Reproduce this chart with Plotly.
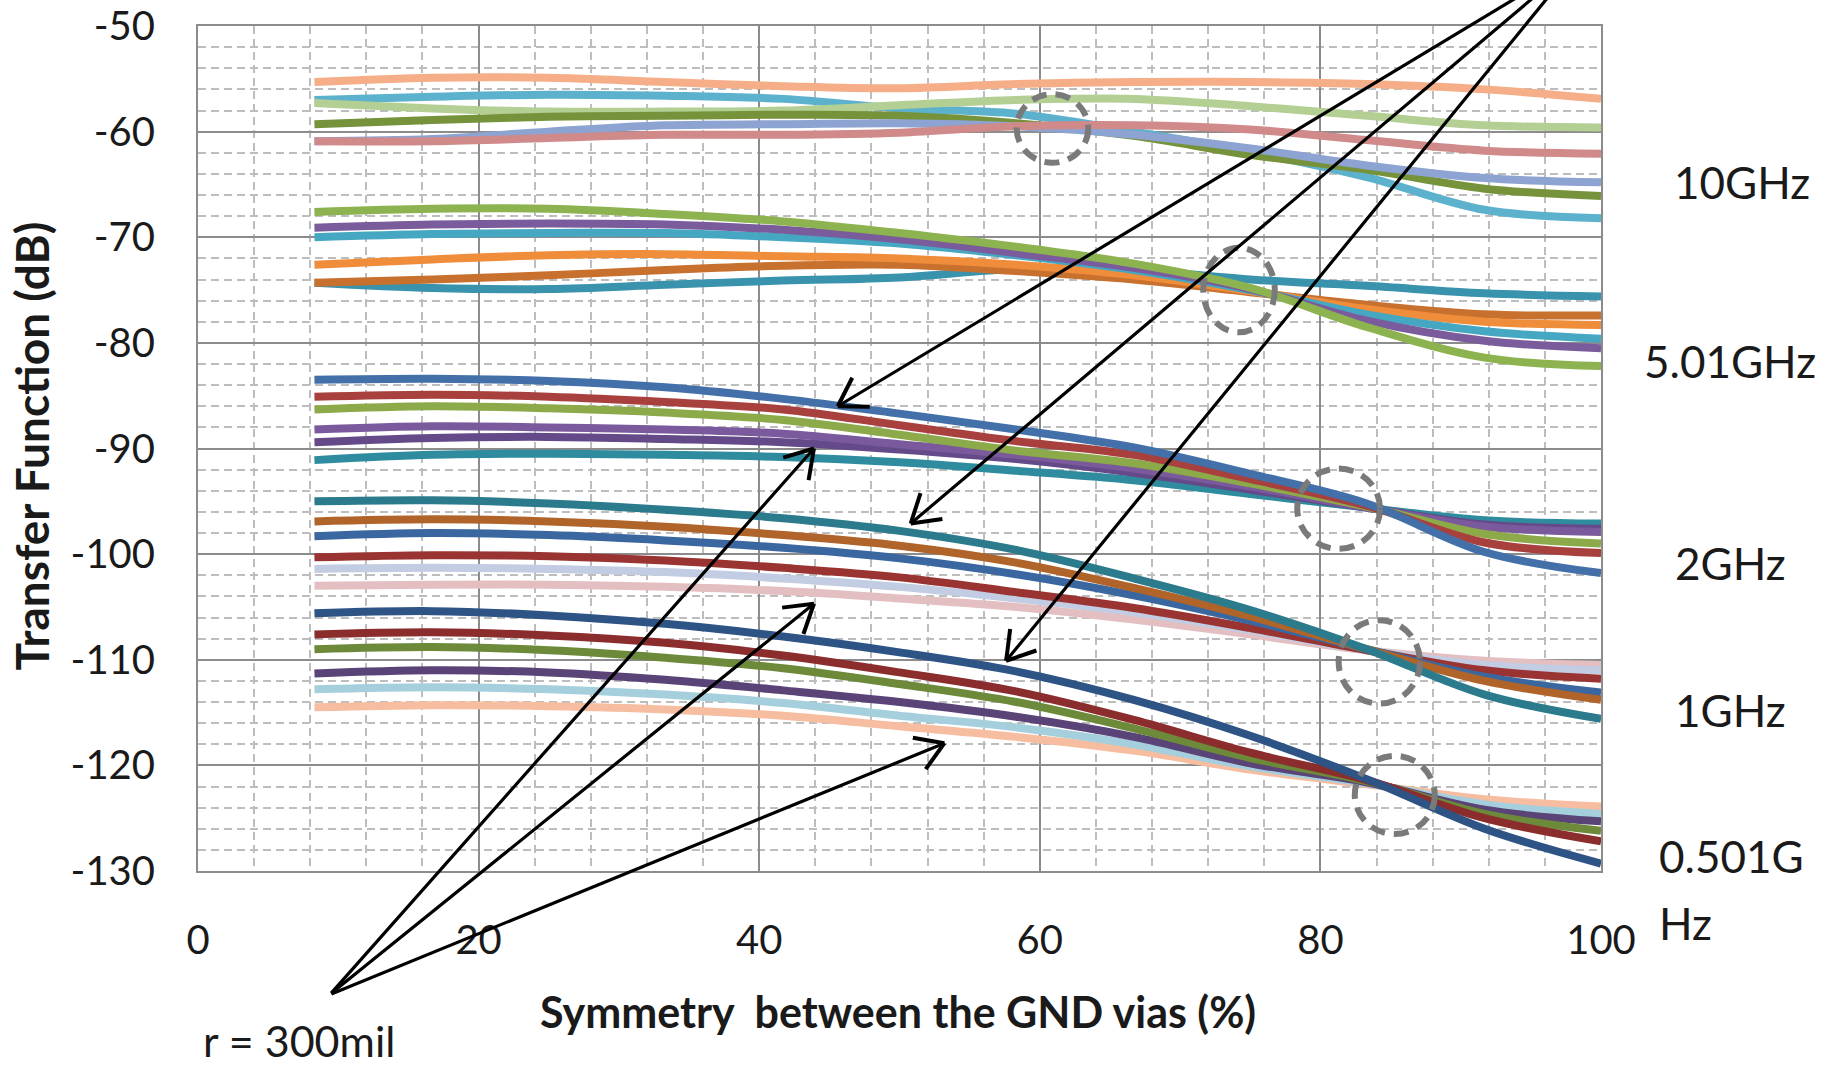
import math
import plotly.graph_objects as go

# ---------------- data ----------------
x_sym = [8.3, 16.7, 25, 33.3, 41.7, 50, 58.3, 66.7, 75, 83.3, 91.7, 100]

# 10 GHz
g10_peach = [-55.3, -54.9, -54.9, -55.3, -55.7, -55.9, -55.5, -55.3, -55.3, -55.5, -56.0, -56.9]
g10_cyan = [-57.0, -56.7, -56.5, -56.6, -56.9, -57.8, -58.3, -60.0, -61.9, -64.3, -67.4, -68.2]
g10_lgreen = [-57.3, -57.8, -58.1, -58.1, -58.0, -57.5, -57.0, -56.9, -57.6, -58.5, -59.4, -59.6]
g10_dgreen = [-59.3, -58.9, -58.6, -58.5, -58.4, -58.5, -59.2, -60.4, -62.2, -63.6, -65.4, -66.1]
g10_lav = [-60.9, -60.7, -60.0, -59.4, -59.3, -59.2, -59.5, -60.3, -61.6, -63.2, -64.4, -64.8]
g10_rose = [-60.9, -60.9, -60.6, -60.3, -60.3, -60.1, -59.5, -59.4, -59.8, -60.8, -61.8, -62.1]

# 5.01 GHz
g5_green = [-67.6, -67.3, -67.3, -67.8, -68.5, -69.6, -70.9, -72.5, -74.8, -78.5, -81.4, -82.2]
g5_purple = [-69.1, -68.8, -68.7, -68.8, -69.3, -70.2, -71.5, -72.9, -74.9, -77.9, -79.8, -80.5]
g5_cyan = [-70.0, -69.7, -69.6, -69.6, -70.0, -70.6, -71.7, -73.1, -75.0, -77.3, -78.9, -79.6]
g5_orange = [-72.6, -72.1, -71.7, -71.6, -71.8, -72.0, -72.6, -73.6, -75.1, -76.8, -78.0, -78.3]
g5_dorange = [-74.3, -74.0, -73.6, -73.1, -72.7, -72.6, -73.2, -74.0, -75.2, -76.4, -77.3, -77.4]
g5_teal = [-74.3, -74.8, -74.9, -74.5, -74.1, -73.8, -73.0, -73.1, -74.0, -74.6, -75.3, -75.6]

# 2 GHz
g2_blue = [-83.5, -83.4, -83.6, -84.2, -85.3, -86.7, -88.2, -89.9, -92.4, -95.2, -99.8, -101.8]
g2_red = [-85.1, -84.9, -85.1, -85.6, -86.3, -87.8, -89.3, -90.6, -92.9, -95.4, -98.9, -99.9]
g2_green = [-86.3, -86.0, -86.2, -86.6, -87.3, -88.7, -90.2, -91.4, -93.3, -95.5, -98.1, -99.0]
g2_purple = [-88.2, -87.9, -88.0, -88.2, -88.6, -89.6, -90.6, -91.9, -93.6, -95.6, -97.4, -97.9]
g2_dpurple = [-89.4, -89.0, -88.9, -89.1, -89.4, -90.1, -91.0, -92.3, -93.9, -95.6, -97.2, -97.6]
g2_teal = [-91.1, -90.6, -90.5, -90.6, -90.8, -91.3, -92.1, -93.0, -94.3, -95.6, -96.8, -97.1]

# 1 GHz
g1_teal = [-95.0, -94.9, -95.2, -95.8, -96.6, -97.8, -99.6, -102.3, -105.3, -109.0, -113.3, -115.6]
g1_brown = [-96.9, -96.7, -96.9, -97.4, -98.2, -99.2, -100.8, -103.2, -105.9, -109.0, -112.0, -113.8]
g1_blue = [-98.3, -98.0, -98.2, -98.7, -99.4, -100.4, -101.9, -103.9, -106.3, -109.0, -111.6, -113.1]
g1_red = [-100.3, -100.1, -100.2, -100.6, -101.3, -102.2, -103.6, -105.1, -107.0, -109.1, -111.0, -111.8]
g1_lav = [-101.4, -101.3, -101.4, -101.7, -102.3, -103.1, -104.2, -105.5, -107.2, -109.1, -110.5, -111.0]
g1_pink = [-103.0, -102.9, -102.9, -103.1, -103.5, -104.2, -105.0, -106.2, -107.6, -109.1, -110.1, -110.5]

# 0.501 GHz
g05_dblue = [-105.6, -105.4, -105.8, -106.6, -107.8, -109.3, -111.1, -113.8, -117.2, -121.3, -126.0, -129.3]
g05_dred = [-107.6, -107.4, -107.7, -108.4, -109.6, -111.2, -113.0, -115.7, -118.8, -121.4, -125.0, -127.2]
g05_olive = [-109.0, -108.8, -109.1, -109.8, -110.8, -112.3, -114.0, -116.5, -119.3, -121.5, -124.6, -126.2]
g05_dpurple = [-111.3, -111.0, -111.2, -111.9, -112.9, -114.0, -115.4, -117.3, -119.8, -121.6, -124.2, -125.3]
g05_lblue = [-112.8, -112.6, -112.8, -113.3, -114.1, -115.3, -116.4, -118.0, -120.1, -121.7, -123.7, -124.6]
g05_peach = [-114.5, -114.3, -114.4, -114.7, -115.3, -116.3, -117.3, -118.6, -120.4, -121.8, -123.2, -123.9]

x_ticks = [0, 20, 40, 60, 80, 100]
x_tick_text = ["0", "20", "40", "60", "80", "100"]
y_ticks = [-130, -120, -110, -100, -90, -80, -70, -60, -50]
y_tick_text = ["-130", "-120", "-110", "-100", "-90", "-80", "-70", "-60", "-50"]
band_labels = ["10GHz", "5.01GHz", "2GHz", "1GHz", "0.501G", "Hz"]
x_title = "Symmetry  between the GND vias (%)"
y_title = "Transfer Function (dB)"
radius_label = "r = 300mil"

# ---------------- styles ----------------
series = [
    (g10_peach, "#F6AE88"), (g10_cyan, "#5CB1CC"), (g10_lgreen, "#B3CF94"),
    (g10_dgreen, "#76933C"), (g10_lav, "#8DA3D1"), (g10_rose, "#D08A8A"),
    (g5_teal, "#3A93AC"), (g5_dorange, "#C8702E"), (g5_orange, "#F08D3A"),
    (g5_cyan, "#45A7C2"), (g5_purple, "#7A5B9C"), (g5_green, "#8DB350"),
    (g2_teal, "#2E8C9E"), (g2_dpurple, "#644A88"), (g2_purple, "#7A5A9C"),
    (g2_green, "#8CAA4A"), (g2_red, "#A8403E"), (g2_blue, "#4470AA"),
    (g1_pink, "#E3BFC2"), (g1_lav, "#C2CCE2"), (g1_red, "#9A3432"),
    (g1_blue, "#3A67A0"), (g1_brown, "#B0642A"), (g1_teal, "#2B7B8C"),
    (g05_peach, "#F6BDA0"), (g05_lblue, "#A5CFDD"), (g05_dpurple, "#5A4377"),
    (g05_olive, "#6C8A3A"), (g05_dred, "#8C2D2D"), (g05_dblue, "#2E5486"),
]

W, H = 1839, 1067
ML, MR, MT, MB = 198, 238, 26, 196
X0, X1, Y0, Y1 = 0, 100, -130, -50
SX = (W - ML - MR) / (X1 - X0)   # pixels per x unit
SY = (H - MT - MB) / (Y1 - Y0)   # pixels per dB


def px(x):
    return (x - X0) / (X1 - X0)


def py(y):
    return (y - Y0) / (Y1 - Y0)


FONT = "Lato, Carlito, 'Open Sans', sans-serif"
fig = go.Figure()
for ys, col in series:
    fig.add_trace(go.Scatter(x=x_sym, y=ys, mode="lines",
                             line=dict(color=col, width=8, shape="spline", smoothing=1.0),
                             hoverinfo="skip"))

major = "#8C8C8C"
minor = "#BDBDBD"
fig.update_xaxes(range=[X0, X1], tickvals=x_ticks, ticktext=x_tick_text, showgrid=True,
                 gridcolor=major, gridwidth=2, automargin=False,
                 showline=True, linecolor=major, linewidth=2, mirror=True, zeroline=False,
                 ticks="outside", ticklen=33, tickcolor="rgba(0,0,0,0)",
                 tickfont=dict(family=FONT, size=40, color="#1A1A1A"),
                 minor=dict(dtick=4, showgrid=True, gridcolor=minor, gridwidth=2, griddash="8px,5px"))
fig.update_yaxes(range=[Y0, Y1], tickvals=y_ticks, ticktext=y_tick_text, showgrid=True,
                 gridcolor=major, gridwidth=2, automargin=False,
                 showline=True, linecolor=major, linewidth=2, mirror=True, zeroline=False,
                 ticks="outside", ticklen=33, tickcolor="rgba(0,0,0,0)",
                 tickfont=dict(family=FONT, size=40, color="#1A1A1A"),
                 minor=dict(dtick=2, showgrid=True, gridcolor=minor, gridwidth=2, griddash="8px,5px"))

# dashed circles at the crossing points (centre x, centre y, width, height)
circles = [(60.9, -59.7, 5.1, 6.5), (74.2, -75.0, 5.1, 8.0), (81.3, -95.7, 5.9, 7.6),
           (84.2, -110.2, 5.8, 7.9), (85.3, -122.8, 5.7, 7.4)]
for cx, cy, w, h in circles:
    fig.add_shape(type="circle", xref="x", yref="y", x0=cx - w / 2, x1=cx + w / 2,
                  y0=cy - h / 2, y1=cy + h / 2,
                  line=dict(color="#7A7A7A", width=6, dash="15px,9px"))

# arrows: (tip x, tip y, tail x, tail y)
arrows = [
    (45.6, -86.0, 95.0, -46.5), (50.8, -97.1, 95.9, -46.5), (57.6, -110.1, 96.7, -46.5),
    (43.9, -90.0, 9.4, -141.7), (43.9, -104.7, 9.4, -141.7), (53.2, -117.9, 9.4, -141.7),
]
ARM = 32.0        # arrowhead arm length in pixels
SPREAD = 32.0     # arrowhead half-angle in degrees
for tx, ty, sx, sy in arrows:
    fig.add_annotation(x=tx, y=ty, ax=sx, ay=sy, xref="x", yref="y", axref="x", ayref="y",
                       showarrow=True, arrowhead=0, arrowwidth=3.2,
                       arrowcolor="black", text="", standoff=0)
    # open V head, built in pixel space then mapped back to data units
    dxp = (sx - tx) * SX
    dyp = (sy - ty) * SY
    ang = math.atan2(dyp, dxp)
    for s in (-1, 1):
        a = ang + s * math.radians(SPREAD)
        ex = tx + ARM * math.cos(a) / SX
        ey = ty + ARM * math.sin(a) / SY
        fig.add_shape(type="line", xref="x", yref="y", x0=tx, y0=ty, x1=ex, y1=ey,
                      line=dict(color="black", width=4))

txt = dict(family=FONT, size=44, color="#1A1A1A")
label_pos = [(110.05, -64.8, "center"), (109.2, -81.7, "center"), (109.2, -100.8, "center"),
             (109.2, -114.8, "center"), (104.0, -128.6, "left"), (104.0, -134.9, "left")]
for (lx, ly, anc), lab in zip(label_pos, band_labels):
    fig.add_annotation(x=px(lx), y=py(ly), xref="paper", yref="paper", text=lab,
                       showarrow=False, xanchor=anc, yanchor="middle", font=txt)

fig.add_annotation(x=px(7.2), y=py(-146.0), xref="paper", yref="paper", text=radius_label,
                   showarrow=False, xanchor="center", yanchor="middle",
                   font=dict(family=FONT, size=43, color="#1A1A1A"))
fig.add_annotation(x=px(49.9), y=py(-143.3), xref="paper", yref="paper",
                   text="<b>" + x_title + "</b>", showarrow=False, xanchor="center", yanchor="middle",
                   font=dict(family=FONT, size=43, color="#1A1A1A"))
fig.add_annotation(x=px(-11.9), y=py(-89.8), xref="paper", yref="paper",
                   text="<b>" + y_title + "</b>", showarrow=False, textangle=-90,
                   xanchor="center", yanchor="middle",
                   font=dict(family=FONT, size=46, color="#1A1A1A"))

fig.update_layout(width=W, height=H, margin=dict(l=ML, r=MR, t=MT, b=MB, autoexpand=False),
                  plot_bgcolor="white", paper_bgcolor="white", showlegend=False)

fig.write_html("out.html", config={"displayModeBar": False},
               post_script="document.body.style.margin='0';")
